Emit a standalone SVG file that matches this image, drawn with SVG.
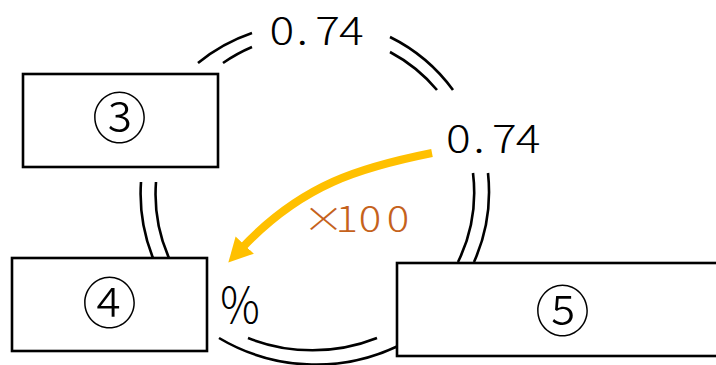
<svg xmlns="http://www.w3.org/2000/svg" width="716" height="365" viewBox="0 0 716 365">
<style>
.ring{fill:none;stroke:#000;stroke-width:2.6}
.box{fill:#fff;stroke:#000;stroke-width:2.6}
.t{font-family:"Noto Sans CJK JP","Noto Sans",sans-serif;font-weight:300;fill:#000}
.num{font-size:38.5px;text-anchor:middle}
.circ{font-size:55px;text-anchor:middle}
.mul{font-size:35px;fill:#C5621C;text-anchor:middle}
.pct{font-size:50px;text-anchor:middle}
.arrow{fill:none;stroke:#FFC000;stroke-width:8}
</style>
<defs>
<marker id="ah" markerUnits="userSpaceOnUse" markerWidth="30" markerHeight="30" viewBox="0 0 30 30" refX="4" refY="15" orient="auto">
<path d="M0,2.5 L24,15 L0,27.5 z" fill="#FFC000"/>
</marker>
</defs>
<g id="connectors">
<path class="ring" d="M198 63 A173 173 0 0 1 252 33"/>
<path class="ring" d="M223 63 A159 159 0 0 1 252 47"/>
<path class="ring" d="M390 37 A173 173 0 0 1 453 90"/>
<path class="ring" d="M390 52 A159 159 0 0 1 437 90"/>
<path class="ring" d="M488 173 A173 173 0 0 1 474 262"/>
<path class="ring" d="M473 173 A159 159 0 0 1 458 262"/>
<path class="ring" d="M141 182 A173 173 0 0 0 153 258"/>
<path class="ring" d="M156 182 A159 159 0 0 0 169 258"/>
<path class="ring" d="M219 338 A190 190 0 0 0 397 346.5"/>
<path class="ring" d="M248 338 A175 175 0 0 0 377 338"/>
<path class="arrow" d="M432 153 C362 167 302 184 242 248" marker-end="url(#ah)"/>
</g>
<g id="node3">
<rect class="box" x="23" y="74" width="195" height="93"/>
<text class="t circ" x="119.5" y="137.8">③</text>
</g>
<g id="node4">
<rect class="box" x="12" y="258" width="195" height="93"/>
<text class="t circ" x="109.5" y="323.3">④</text>
</g>
<g id="node5">
<rect class="box" x="397" y="263" width="331" height="93"/>
<text class="t circ" x="562.5" y="330.8">⑤</text>
</g>
<g id="label-top">
<text class="t num" transform="scale(1.2 1)" x="234.8 252 273.1 292.9" y="45">0.74</text>
</g>
<g id="label-right">
<text class="t num" transform="scale(1.2 1)" x="381.9 399.1 420.2 440" y="153.5">0.74</text>
</g>
<g id="label-percent">
<text class="t pct" transform="scale(0.88 1)" x="272.7" y="322.8">%</text>
</g>
<g id="label-mul">
<text class="t mul" transform="scale(1.2 1)" x="269.5 289 308.3 331.7" y="232.3">×100</text>
</g>
</svg>
